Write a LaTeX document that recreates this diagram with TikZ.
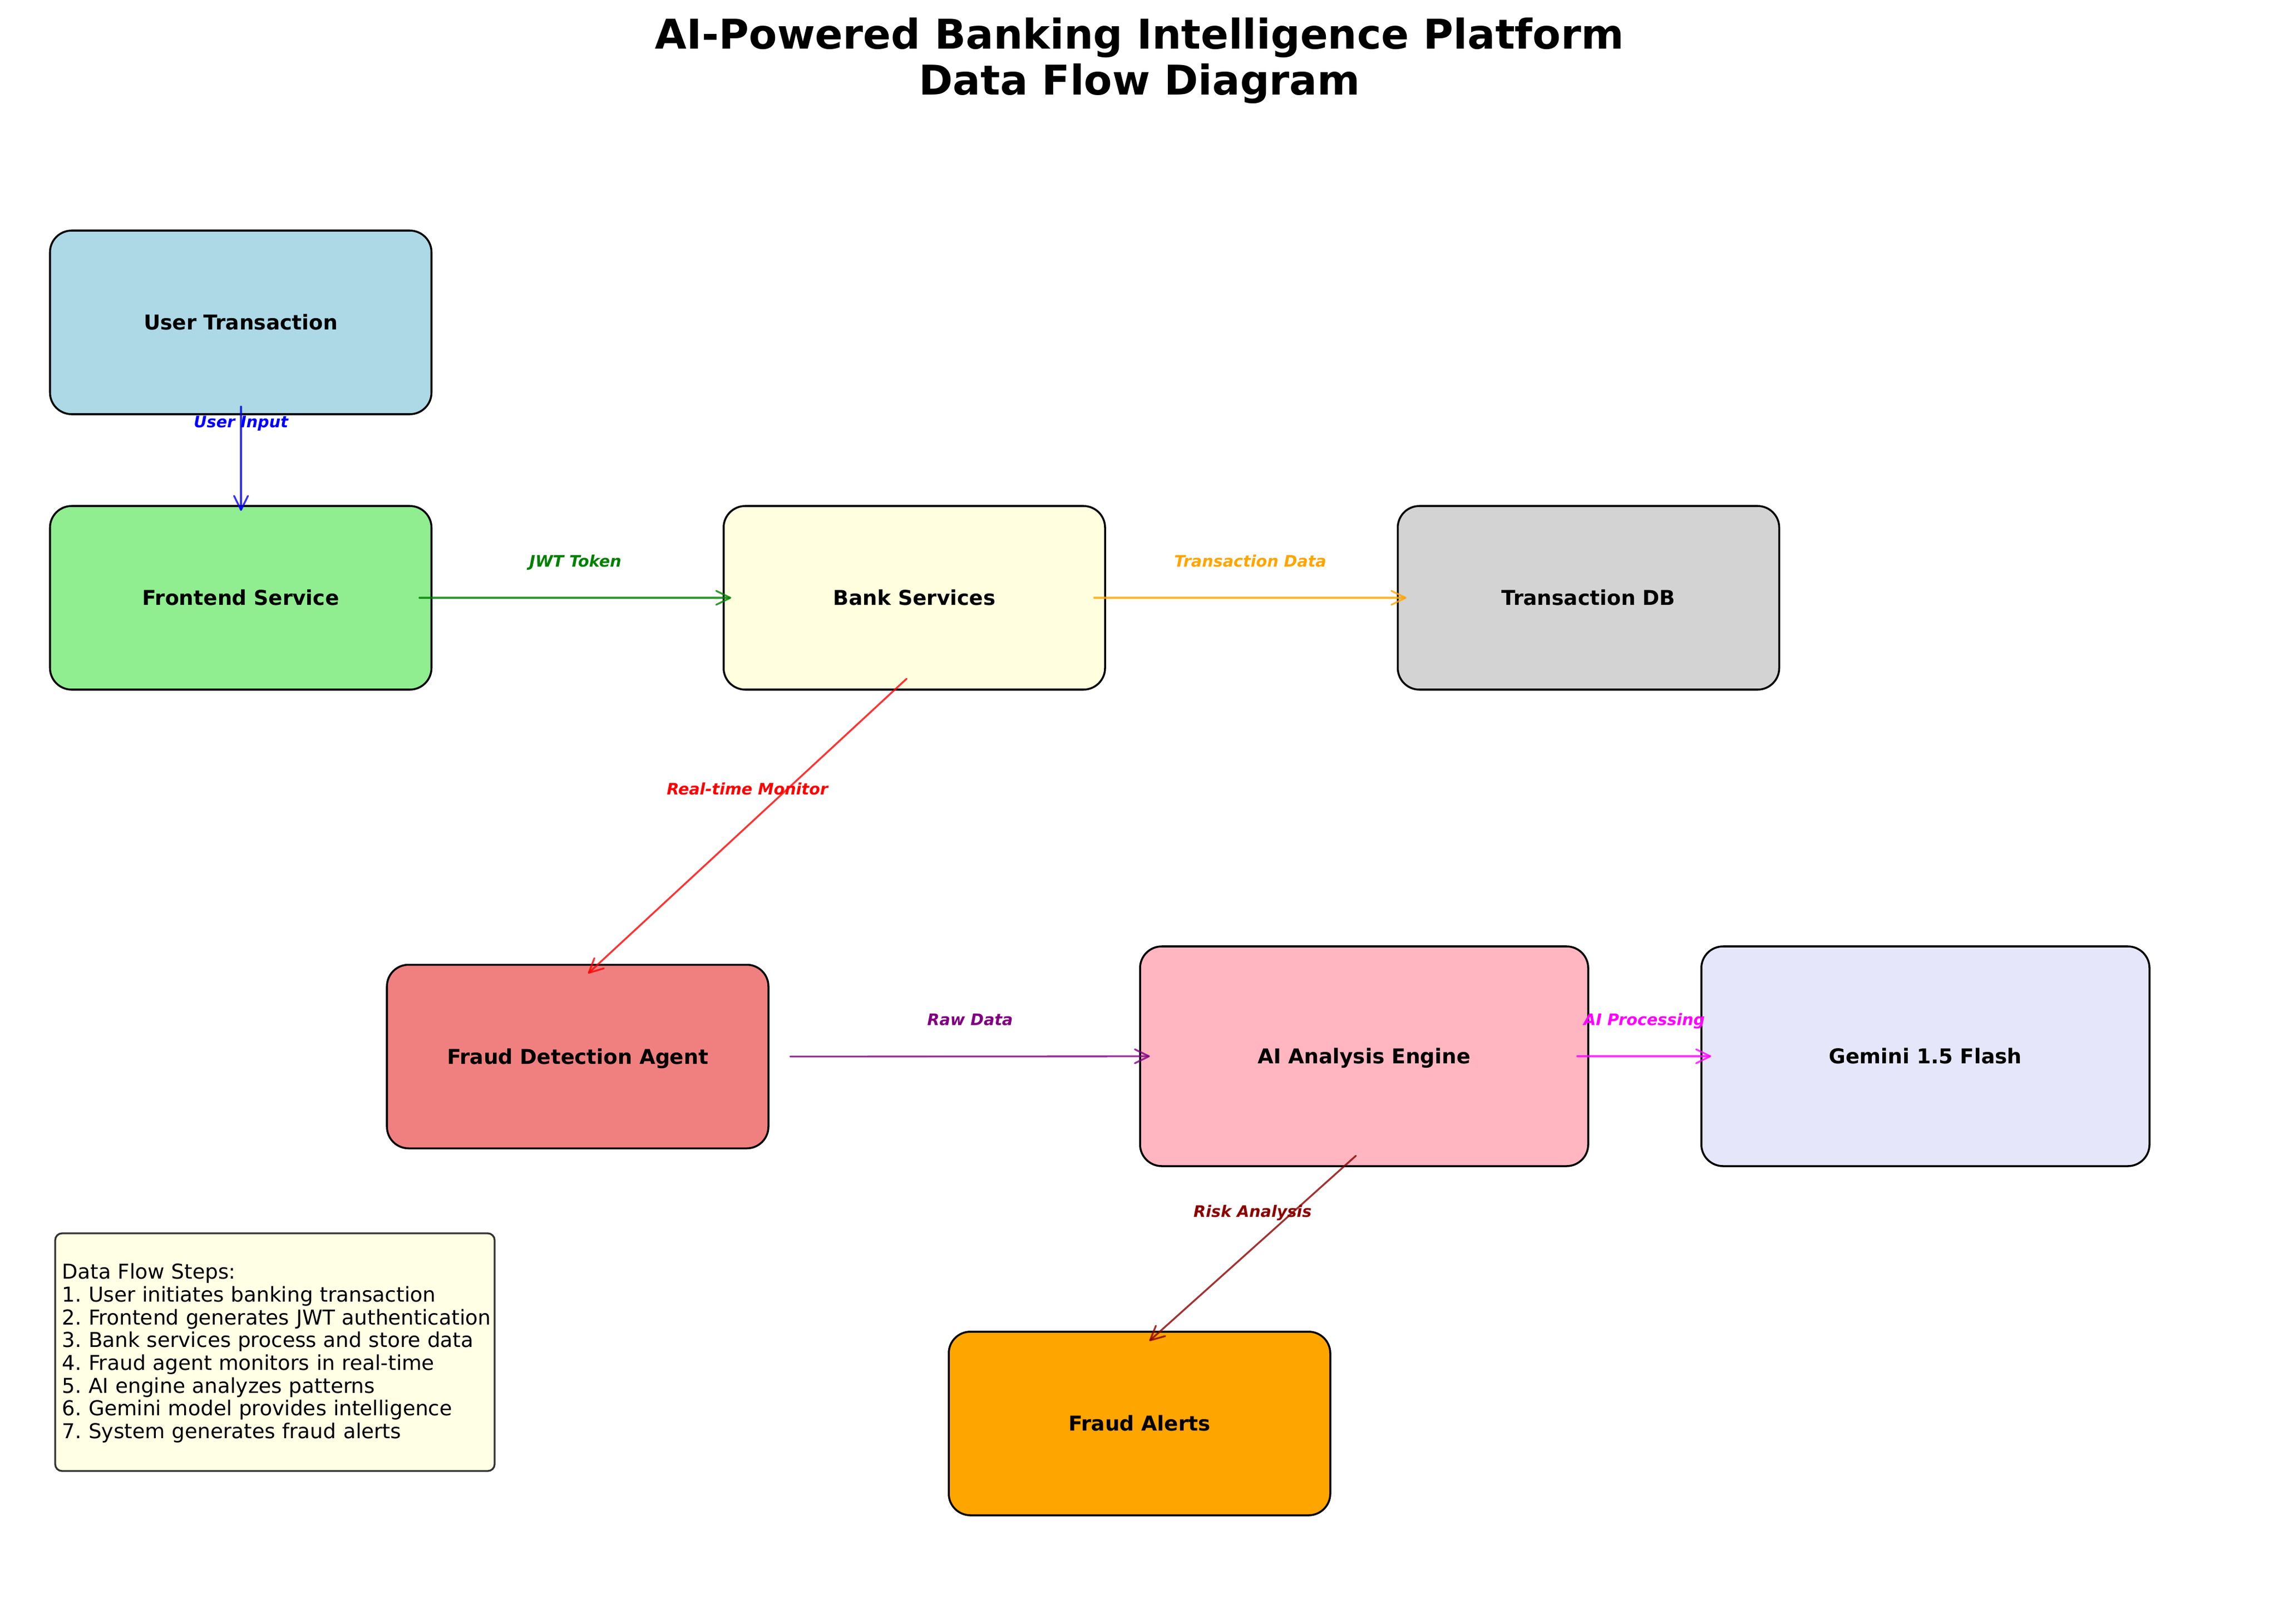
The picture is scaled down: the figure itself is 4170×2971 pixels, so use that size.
\documentclass[tikz,border=0pt]{standalone}
\usepackage{fontspec}
\setmainfont{DejaVu Sans}
\usetikzlibrary{arrows.meta,calc}
\frenchspacing
\definecolor{cUT}{HTML}{ADD8E6}
\definecolor{cFE}{HTML}{90EE90}
\definecolor{cBK}{HTML}{FFFFE0}
\definecolor{cDB}{HTML}{D3D3D3}
\definecolor{cFR}{HTML}{F08080}
\definecolor{cAI}{HTML}{FFB6C1}
\definecolor{cGE}{HTML}{E6E6FA}
\definecolor{cAL}{HTML}{FFA500}
\definecolor{cST}{HTML}{FFFFE6}
\definecolor{cSTb}{HTML}{333333}
\definecolor{lblue}{HTML}{0000FF}
\definecolor{lred}{HTML}{FF0000}
\definecolor{lgreen}{HTML}{008000}
\definecolor{lorange}{HTML}{FFA500}
\definecolor{lpurple}{HTML}{800080}
\definecolor{lmag}{HTML}{FF00FF}
\definecolor{ldarkred}{HTML}{8B0000}
\begin{document}
\begin{tikzpicture}[x=0.24pt,y=-0.24pt,
  box/.style={draw=black, line width=0.85pt, rounded corners=9.5pt,
    minimum width={698*0.24pt}, minimum height={336*0.24pt},
    inner sep=0pt, outer sep=0pt,
    font=\fontsize{9}{11}\selectfont\bfseries, text height=6.56pt, text depth=0pt},
  bigbox/.style={box, minimum width={820*0.24pt}, minimum height={402*0.24pt}},
  flow/.style={line width=0.8pt, draw opacity=0.8, line cap=round,
    -{Straight Barb[length=6.2pt,width=6.1pt,line cap=round,line join=round]}},
  lab/.style={font=\fontsize{7}{8}\selectfont\bfseries\itshape, text height=5.1pt,
    text depth=0pt, inner sep=0pt, midway, yshift=16.2pt, text opacity=1}
]
\useasboundingbox (0,0) rectangle (4170,2971);

% title
\node[anchor=north, inner sep=0pt, align=center,
  font=\fontsize{18}{20.2}\selectfont\bfseries] (title) at (2085,32)
  {AI-Powered Banking Intelligence Platform\\Data Flow Diagram};

% boxes
\node[box, fill=cUT] (ut) at (440.5,590) {User Transaction};
\node[box, fill=cFE] (fe) at (440.5,1094) {Frontend Service};
\node[box, fill=cBK] (bank) at (1673,1094) {Bank Services};
\node[box, fill=cDB] (db) at (2906.5,1094) {Transaction DB};
\node[box, fill=cFR] (fraud) at (1057,1933.5) {Fraud Detection Agent};
\node[bigbox, fill=cAI] (ai) at (2496,1933) {AI Analysis Engine};
\node[bigbox, fill=cGE] (gem) at (3523,1933) {Gemini 1.5 Flash};
\node[box, fill=cAL] (alerts) at (2085,2605) {Fraud Alerts};

% connectors
\draw[flow, lblue] ([shift={(0.5,-14)}]ut.south) --
  node[lab, text=lblue] {User Input} ([shift={(0.5,9)}]fe.north);
\draw[flow, lgreen] ([shift={(-22,0)}]fe.east) --
  node[lab, text=lgreen] {JWT Token} ([shift={(14,0)}]bank.west);
\draw[flow, lorange] ([shift={(-20,0)}]bank.east) --
  node[lab, text=lorange] {Transaction Data} ([shift={(16,0)}]db.west);
\draw[flow, lred] ([shift={(-14,-20)}]bank.south) --
  node[lab, text=lred] {Real-time Monitor} ([shift={(19,16)}]fraud.north);
\draw[flow, lpurple] ([shift={(40,0)}]fraud.east) --
  node[lab, text=lpurple] {Raw Data} ([shift={(18,0)}]ai.west);
\draw[flow, lmag] ([shift={(-20,0)}]ai.east) --
  node[lab, text=lmag] {AI Processing} ([shift={(18,0)}]gem.west);
\draw[flow, ldarkred] ([shift={(-15,-19)}]ai.south) --
  node[lab, text=ldarkred] {Risk Analysis} ([shift={(18,17)}]alerts.north);

% steps legend
\node[draw=cSTb, fill=cST, line width=0.8pt, rounded corners=3pt, inner sep=0pt,
  minimum width={804*0.24pt}, minimum height={435*0.24pt}] (steps) at (503,2474.5) {};
\node[anchor=north west, inner sep=0pt, text width=200pt, align=left,
  font=\fontsize{9}{10}\selectfont] (stepstext) at (113,2311.5)
  {Data Flow Steps:\\
   1. User initiates banking transaction\\
   2. Frontend generates JWT authentication\\
   3. Bank services process and store data\\
   4. Fraud agent monitors in real-time\\
   5. AI engine analyzes patterns\\
   6. Gemini model provides intelligence\\
   7. System generates fraud alerts};
\end{tikzpicture}
\end{document}
